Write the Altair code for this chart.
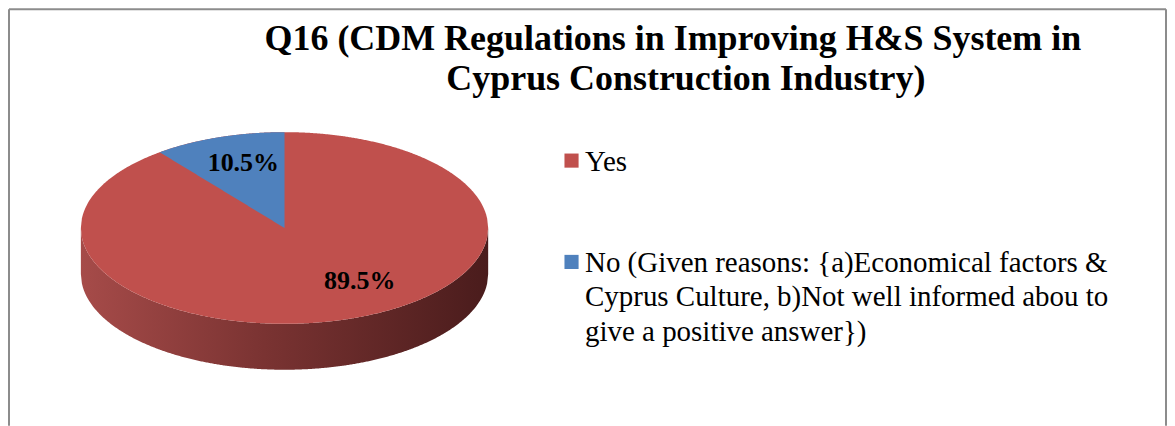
import numpy as np
import pandas as pd
import altair as alt

# ---- data ----
title_lines = ["Q16 (CDM Regulations in Improving H&S System in",
               "Cyprus Construction Industry)"]
categories = ["Yes", "No"]
legend_labels = ["Yes",
                 "No (Given reasons: {a)Economical factors &\nCyprus Culture, b)Not well informed abou to\ngive a positive answer})"]
values = [89.5, 10.5]
colors = ["#C0504D", "#4F81BD"]

# ---- layout (plot-area pixel units) ----
W, H = 1160, 418
CX, CY, RX, RY, DEPTH = 276, 220, 204, 96, 46
N = 400
LABEL_R = 0.7
label_nudge = [(29, -10), (5, -2)]
FONT = "Liberation Serif"
title_x = [665, 678]
title_y = [42, 82]

total = sum(values)
phi_no = 2 * np.pi * values[1] / total

# top face and side of the elliptical (3D-looking) pie
u = np.linspace(-1, 1, N)
half = RY * np.sqrt(np.clip(1 - u ** 2, 0, None))
top_df = pd.DataFrame({"x": CX + RX * u, "y": CY - half, "y2": CY + half, "cat": categories[0]})
side_df = pd.DataFrame({"x": CX + RX * u, "y": CY + half, "y2": CY + half + DEPTH})

# wedge for "No": from 12 o'clock counter-clockwise by phi_no
xs = np.linspace(CX - RX * np.sin(phi_no), CX, 150)
uu = (xs - CX) / RX
upper = CY - RY * np.sqrt(np.clip(1 - uu ** 2, 0, None))
lower = CY - (RY * np.cos(phi_no) / (RX * np.sin(phi_no))) * (CX - xs)
wedge_df = pd.DataFrame({"x": xs, "y": upper, "y2": lower, "cat": categories[1]})

# percentage labels at slice mid-angles
mid_angles = [np.pi * values[0] / total, -phi_no / 2]
lab_rows = []
for i, (v, a) in enumerate(zip(values, mid_angles)):
    lab_rows.append({
        "x": CX + LABEL_R * RX * np.sin(a) + label_nudge[i][0],
        "y": CY - LABEL_R * RY * np.cos(a) + label_nudge[i][1],
        "text": f"{v}%",
    })
lab_df = pd.DataFrame(lab_rows)

# legend
LEG_SQ_X, LEG_TX_X = 563.5, 577
leg_sq_y = [152.5, 254]
leg_base_y = [163, 264]
LEG_LH = 34.5
leg_df = pd.DataFrame({"cat": categories, "label": legend_labels,
                       "sqx": [LEG_SQ_X] * 2, "sqy": leg_sq_y,
                       "tx": [LEG_TX_X] * 2, "ty": leg_base_y})

title_df = pd.DataFrame({"text": title_lines, "x": title_x, "y": title_y})

# frame (top, left, right edges; bottom is outside the visible window)
frame_df = pd.DataFrame({"x": [0, 0, W - 1], "x2": [W - 1, 0, W - 1],
                         "y": [1, 1, 1], "y2": [1, H, H]})

xs_ = alt.Scale(domain=[0, W], nice=False, zero=False)
ys_ = alt.Scale(domain=[0, H], nice=False, zero=False, reverse=True)
col = alt.Color("cat:N", scale=alt.Scale(domain=categories, range=colors), legend=None)

frame = alt.Chart(frame_df).mark_rule(color="#8C8C8C", strokeWidth=2).encode(
    x=alt.X("x:Q", scale=xs_, axis=None), x2="x2:Q",
    y=alt.Y("y:Q", scale=ys_, axis=None), y2="y2:Q")

side = alt.Chart(side_df).mark_area(
    color=alt.Gradient(gradient="linear",
                       stops=[alt.GradientStop(color="#A64B49", offset=0),
                              alt.GradientStop(color="#7A3332", offset=0.45),
                              alt.GradientStop(color="#4A1C1C", offset=1)],
                       x1=0, x2=1, y1=0, y2=0)
).encode(x=alt.X("x:Q", scale=xs_, axis=None),
         y=alt.Y("y:Q", scale=ys_, axis=None), y2="y2:Q")

topface = alt.Chart(top_df).mark_area().encode(
    x=alt.X("x:Q", scale=xs_, axis=None),
    y=alt.Y("y:Q", scale=ys_, axis=None), y2="y2:Q", color=col)

wedge = alt.Chart(wedge_df).mark_area().encode(
    x=alt.X("x:Q", scale=xs_, axis=None),
    y=alt.Y("y:Q", scale=ys_, axis=None), y2="y2:Q", color=col)

labels = alt.Chart(lab_df).mark_text(
    font=FONT, fontSize=26, fontWeight="bold", color="black",
    align="center", baseline="middle"
).encode(x=alt.X("x:Q", scale=xs_, axis=None),
         y=alt.Y("y:Q", scale=ys_, axis=None), text="text:N")

leg_sq = alt.Chart(leg_df).mark_square(size=200, opacity=1, shape="square").encode(
    x=alt.X("sqx:Q", scale=xs_, axis=None),
    y=alt.Y("sqy:Q", scale=ys_, axis=None), color=col)

leg_tx = alt.Chart(leg_df).mark_text(
    font=FONT, fontSize=29, color="black", align="left", baseline="alphabetic",
    lineBreak="\n", lineHeight=LEG_LH
).encode(x=alt.X("tx:Q", scale=xs_, axis=None),
         y=alt.Y("ty:Q", scale=ys_, axis=None), text="label:N")

title = alt.Chart(title_df).mark_text(
    font=FONT, fontSize=36, fontWeight="bold", color="black",
    align="center", baseline="alphabetic"
).encode(x=alt.X("x:Q", scale=xs_, axis=None),
         y=alt.Y("y:Q", scale=ys_, axis=None), text="text:N")

chart = alt.layer(frame, side, topface, wedge, labels, leg_sq, leg_tx, title).properties(
    width=W, height=H, padding=0, background="white"
).configure_view(stroke=None)

chart.save("out.html", embed_options={"renderer": "svg", "actions": False})
